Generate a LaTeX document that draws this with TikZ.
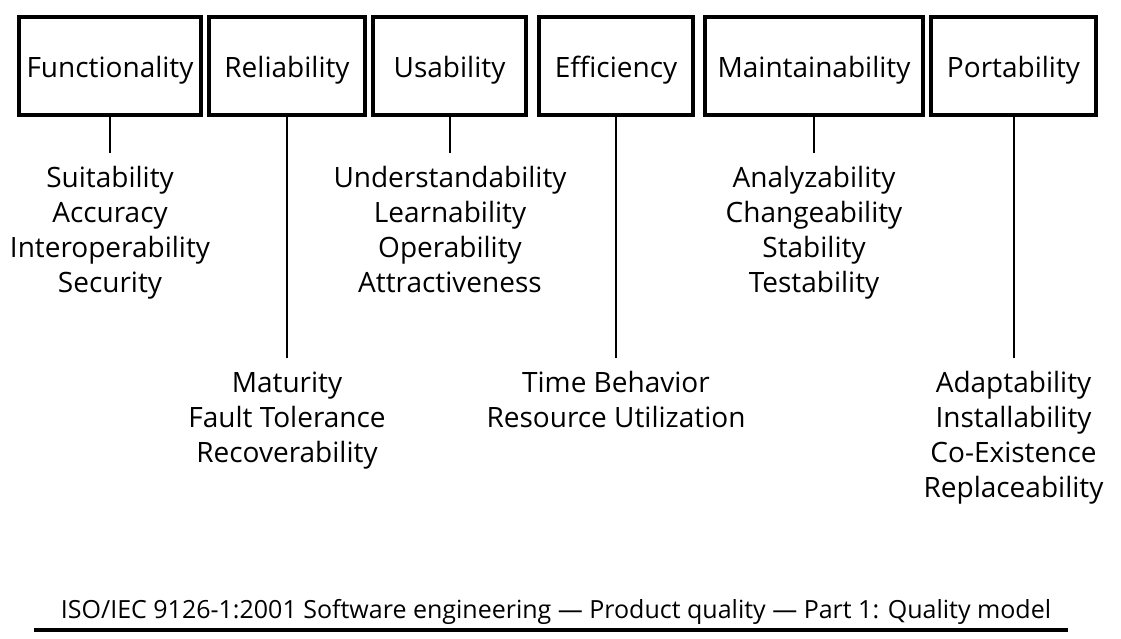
\documentclass[tikz,border=0pt]{standalone}
\usepackage{fontspec}
\setmainfont{Open Sans}
\begin{document}
\begin{tikzpicture}[x=1pt,y=-1pt,
  box/.style={draw,line width=4pt,minimum height=98pt,inner sep=0pt,anchor=center,
    text height=24pt,text depth=2pt,font=\fontsize{28}{35}\selectfont},
  conn/.style={line width=2pt},
  items/.style={align=center,anchor=base,inner sep=0pt,font=\fontsize{28}{35}\selectfont},
  rule/.style={line width=4pt}]
\useasboundingbox (0,0) rectangle (1121,638);
% quality characteristics
\node[box,minimum width=182pt] (f) at (110,66) {Functionality};
\node[box,minimum width=156pt] (r) at (287,66) {Reliability};
\node[box,minimum width=153pt] (u) at (449.5,66) {Usability};
\node[box,minimum width=154pt] (e) at (616,66) {Efficiency};
\node[box,minimum width=218pt] (m) at (814,66) {Maintainability};
\node[box,minimum width=165pt] (p) at (1013.5,66) {Portability};
% connector ends
\coordinate (fe) at (110,153);
\coordinate (re) at (287,358);
\coordinate (ue) at (449.5,153);
\coordinate (ee) at (616,358);
\coordinate (me) at (814,153);
\coordinate (pe) at (1013.5,358);
\draw[conn] (f.south) -- (fe);
\draw[conn] (r.south) -- (re);
\draw[conn] (u.south) -- (ue);
\draw[conn] (e.south) -- (ee);
\draw[conn] (m.south) -- (me);
\draw[conn] (p.south) -- (pe);
% sub-characteristics (base anchor = last line's baseline)
\node[items] (fi) at (110,292) {Suitability\\Accuracy\\Interoperability\\Security};
\node[items] (ui) at (450,292) {Understandability\\Learnability\\Operability\\Attractiveness};
\node[items] (mi) at (814,292) {Analyzability\\Changeability\\Stability\\Testability};
\node[items] (ri) at (287,462) {Maturity\\Fault Tolerance\\Recoverability};
\node[items] (ei) at (616,427) {Time Behavior\\Resource Utilization};
\node[items] (pi) at (1013.5,497) {Adaptability\\Installability\\Co-Existence\\Replaceability};
% footer
\node[anchor=base,inner sep=0pt,font=\fontsize{25}{30}\selectfont] (src) at (556,618) {ISO/IEC 9126-1:2001 Software engineering — Product quality — Part 1: Quality model};
\coordinate (rl) at (34,630);
\coordinate (rr) at (1068,630);
\draw[rule] (rl) -- (rr);
\end{tikzpicture}
\end{document}
